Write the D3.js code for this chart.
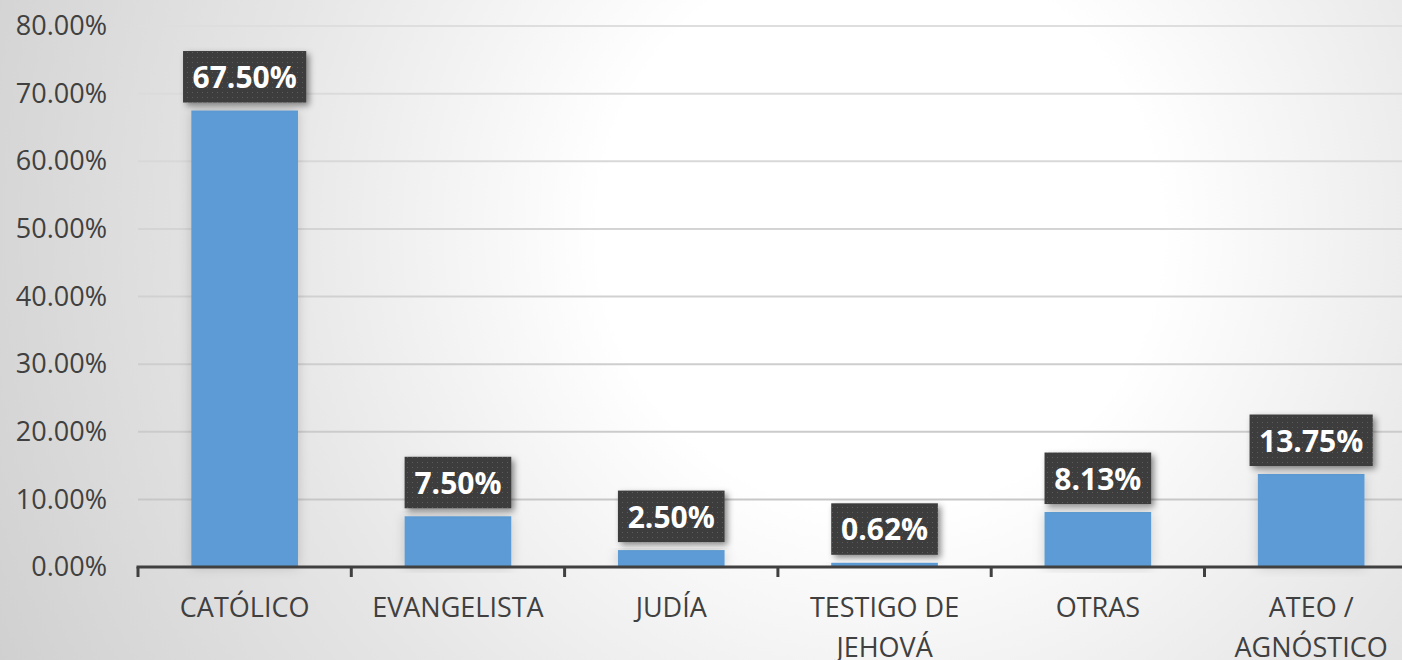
<!DOCTYPE html>
<html>
<head>
<meta charset="utf-8">
<script src="https://cdn.jsdelivr.net/npm/d3@7"></script>
<style>
  html, body { margin: 0; padding: 0; overflow: hidden; }
  svg { display: block; }
</style>
</head>
<body>
<svg id="chart" width="1402" height="660"></svg>
<script>
const categories = ["CATÓLICO", "EVANGELISTA", "JUDÍA", "TESTIGO DE JEHOVÁ", "OTRAS", "ATEO / AGNÓSTICO"];
const values = [0.675, 0.075, 0.025, 0.0062, 0.0813, 0.1375];
const valueLabels = ["67.50%", "7.50%", "2.50%", "0.62%", "8.13%", "13.75%"];
const yTicks = [0, 0.1, 0.2, 0.3, 0.4, 0.5, 0.6, 0.7, 0.8];

const W = 1402, H = 660;
const svg = d3.select("#chart");
const defs = svg.append("defs");

// background radial gradient
const rg = defs.append("radialGradient").attr("id", "bg")
  .attr("gradientUnits", "userSpaceOnUse")
  .attr("cx", 880).attr("cy", 230).attr("r", 1000);
rg.append("stop").attr("offset", "0").attr("stop-color", "#ffffff");
rg.append("stop").attr("offset", "0.28").attr("stop-color", "#ffffff");
rg.append("stop").attr("offset", "0.62").attr("stop-color", "#e6e6e6");
rg.append("stop").attr("offset", "1").attr("stop-color", "#cfcfcf");
svg.append("rect").attr("width", W).attr("height", H).attr("fill", "url(#bg)");

// dotted pattern for label boxes
const pat = defs.append("pattern").attr("id", "dots").attr("patternUnits", "userSpaceOnUse")
  .attr("width", 5).attr("height", 5);
pat.append("rect").attr("width", 5).attr("height", 5).attr("fill", "#3d3d3d");
pat.append("rect").attr("x", 2).attr("y", 2).attr("width", 1).attr("height", 1).attr("fill", "#5c5c5c");

// shadows
const sh = defs.append("filter").attr("id", "boxShadow").attr("x", "-20%").attr("y", "-20%").attr("width", "150%").attr("height", "160%");
sh.append("feDropShadow").attr("dx", 3).attr("dy", 3).attr("stdDeviation", 3)
  .attr("flood-color", "#000").attr("flood-opacity", 0.45);
const bs = defs.append("filter").attr("id", "barShadow").attr("x", "-30%").attr("y", "-10%").attr("width", "160%").attr("height", "120%");
bs.append("feDropShadow").attr("dx", 0).attr("dy", 0).attr("stdDeviation", 6)
  .attr("flood-color", "#000").attr("flood-opacity", 0.18);

const x0 = 138, step = 213.3;
const x = d3.scaleBand().domain(categories).range([x0, x0 + step * categories.length]).padding(0);
const y = d3.scaleLinear().domain([0, 0.8]).range([567, 26]);

// gridlines
svg.append("g").selectAll("line").data(yTicks.filter(d => d > 0)).join("line")
  .attr("x1", x0).attr("x2", W)
  .attr("y1", d => y(d)).attr("y2", d => y(d))
  .attr("stroke", d => d3.interpolateRgb("#c4c4c4", "#dedede")(d / 0.8))
  .attr("stroke-width", 2);

// y axis labels
const yAxis = d3.axisLeft(y).tickValues(yTicks).tickFormat(d => (d * 100).toFixed(2) + "%").tickSize(0).tickPadding(31);
const gy = svg.append("g").attr("transform", `translate(${x0},0)`).call(yAxis);
gy.select(".domain").remove();
gy.selectAll("text").attr("font-family", "'Open Sans', sans-serif").attr("font-size", 27)
  .attr("fill", "#404040");

// bars
const barW = x.bandwidth() * 0.5;
svg.append("g").selectAll("rect").data(categories).join("rect")
  .attr("x", d => x(d) + (x.bandwidth() - barW) / 2)
  .attr("y", (d, i) => y(values[i]))
  .attr("width", barW)
  .attr("height", (d, i) => y(0) - y(values[i]))
  .attr("fill", "#5b9bd5")
  .attr("filter", "url(#barShadow)");

// x axis
const xAxis = d3.axisBottom(x).tickSize(0).tickFormat("");
const gx = svg.append("g").attr("transform", `translate(0,${y(0)})`).call(xAxis);
gx.select(".domain").remove();
svg.append("line").attr("x1", x0 - 1.5).attr("x2", W).attr("y1", y(0)).attr("y2", y(0))
  .attr("stroke", "#404040").attr("stroke-width", 3);
const bounds = d3.range(categories.length + 1).map(i => x0 + i * x.step());
svg.append("g").selectAll("line").data(bounds).join("line")
  .attr("x1", d => d).attr("x2", d => d)
  .attr("y1", y(0)).attr("y2", y(0) + 10)
  .attr("stroke", "#404040").attr("stroke-width", 3);

// category labels with wrapping
const catG = svg.append("g");
categories.forEach(c => {
  const cx = x(c) + x.bandwidth() / 2;
  const t = catG.append("text").attr("x", cx).attr("y", 617)
    .attr("text-anchor", "middle")
    .attr("font-family", "'Open Sans', sans-serif").attr("font-size", 27).attr("fill", "#404040");
  const words = c.split(" ");
  let lines = [], line = [];
  const tmp = t.append("tspan");
  words.forEach(w => {
    line.push(w);
    tmp.text(line.join(" "));
    if (tmp.node().getComputedTextLength() > 190 && line.length > 1) {
      line.pop();
      lines.push(line.join(" "));
      line = [w];
    }
  });
  lines.push(line.join(" "));
  tmp.remove();
  lines.forEach((l, i) => {
    t.append("tspan").attr("x", cx).attr("y", 617 + i * 40).text(l);
  });
});

// value labels
const lg = svg.append("g");
categories.forEach((c, i) => {
  const cx = x(c) + x.bandwidth() / 2;
  const g = lg.append("g");
  const txt = g.append("text").attr("x", cx).attr("text-anchor", "middle")
    .attr("font-family", "'Open Sans', sans-serif").attr("font-weight", "bold")
    .attr("font-size", 30).attr("fill", "#ffffff").text(valueLabels[i]);
  const tw = txt.node().getComputedTextLength();
  const bw = Math.max(barW, tw + 19);
  const bottom = y(values[i]) - 8;
  const top = bottom - 51.5;
  g.insert("rect", "text").attr("x", cx - bw / 2).attr("y", top).attr("width", bw).attr("height", 51.5)
    .attr("fill", "url(#dots)").attr("filter", "url(#boxShadow)");
  txt.attr("y", bottom - 14.5);
});
</script>
</body>
</html>
